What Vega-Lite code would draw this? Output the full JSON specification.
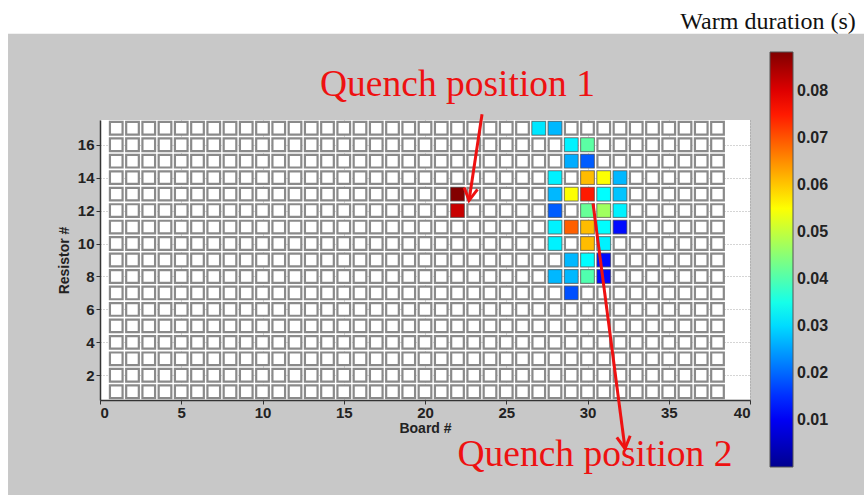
{
"$schema":"https://vega.github.io/schema/vega-lite/v6.json",
"width":650,"height":280,
"autosize":{"type":"none"},
"padding":{"left":100,"top":120,"right":114,"bottom":95},
"background":"#c8c8c8",
"config":{"view":{"fill":"white","stroke":null}},
"datasets":{
"grid":[
{"x":1,"y":1},{"x":2,"y":1},{"x":3,"y":1},{"x":4,"y":1},{"x":5,"y":1},{"x":6,"y":1},{"x":7,"y":1},{"x":8,"y":1},{"x":9,"y":1},{"x":10,"y":1},{"x":11,"y":1},{"x":12,"y":1},{"x":13,"y":1},{"x":14,"y":1},{"x":15,"y":1},{"x":16,"y":1},{"x":17,"y":1},{"x":18,"y":1},{"x":19,"y":1},{"x":20,"y":1},{"x":21,"y":1},{"x":22,"y":1},{"x":23,"y":1},{"x":24,"y":1},{"x":25,"y":1},{"x":26,"y":1},{"x":27,"y":1},{"x":28,"y":1},{"x":29,"y":1},{"x":30,"y":1},{"x":31,"y":1},{"x":32,"y":1},{"x":33,"y":1},{"x":34,"y":1},{"x":35,"y":1},{"x":36,"y":1},{"x":37,"y":1},{"x":38,"y":1},
{"x":1,"y":2},{"x":2,"y":2},{"x":3,"y":2},{"x":4,"y":2},{"x":5,"y":2},{"x":6,"y":2},{"x":7,"y":2},{"x":8,"y":2},{"x":9,"y":2},{"x":10,"y":2},{"x":11,"y":2},{"x":12,"y":2},{"x":13,"y":2},{"x":14,"y":2},{"x":15,"y":2},{"x":16,"y":2},{"x":17,"y":2},{"x":18,"y":2},{"x":19,"y":2},{"x":20,"y":2},{"x":21,"y":2},{"x":22,"y":2},{"x":23,"y":2},{"x":24,"y":2},{"x":25,"y":2},{"x":26,"y":2},{"x":27,"y":2},{"x":28,"y":2},{"x":29,"y":2},{"x":30,"y":2},{"x":31,"y":2},{"x":32,"y":2},{"x":33,"y":2},{"x":34,"y":2},{"x":35,"y":2},{"x":36,"y":2},{"x":37,"y":2},{"x":38,"y":2},
{"x":1,"y":3},{"x":2,"y":3},{"x":3,"y":3},{"x":4,"y":3},{"x":5,"y":3},{"x":6,"y":3},{"x":7,"y":3},{"x":8,"y":3},{"x":9,"y":3},{"x":10,"y":3},{"x":11,"y":3},{"x":12,"y":3},{"x":13,"y":3},{"x":14,"y":3},{"x":15,"y":3},{"x":16,"y":3},{"x":17,"y":3},{"x":18,"y":3},{"x":19,"y":3},{"x":20,"y":3},{"x":21,"y":3},{"x":22,"y":3},{"x":23,"y":3},{"x":24,"y":3},{"x":25,"y":3},{"x":26,"y":3},{"x":27,"y":3},{"x":28,"y":3},{"x":29,"y":3},{"x":30,"y":3},{"x":31,"y":3},{"x":32,"y":3},{"x":33,"y":3},{"x":34,"y":3},{"x":35,"y":3},{"x":36,"y":3},{"x":37,"y":3},{"x":38,"y":3},
{"x":1,"y":4},{"x":2,"y":4},{"x":3,"y":4},{"x":4,"y":4},{"x":5,"y":4},{"x":6,"y":4},{"x":7,"y":4},{"x":8,"y":4},{"x":9,"y":4},{"x":10,"y":4},{"x":11,"y":4},{"x":12,"y":4},{"x":13,"y":4},{"x":14,"y":4},{"x":15,"y":4},{"x":16,"y":4},{"x":17,"y":4},{"x":18,"y":4},{"x":19,"y":4},{"x":20,"y":4},{"x":21,"y":4},{"x":22,"y":4},{"x":23,"y":4},{"x":24,"y":4},{"x":25,"y":4},{"x":26,"y":4},{"x":27,"y":4},{"x":28,"y":4},{"x":29,"y":4},{"x":30,"y":4},{"x":31,"y":4},{"x":32,"y":4},{"x":33,"y":4},{"x":34,"y":4},{"x":35,"y":4},{"x":36,"y":4},{"x":37,"y":4},{"x":38,"y":4},
{"x":1,"y":5},{"x":2,"y":5},{"x":3,"y":5},{"x":4,"y":5},{"x":5,"y":5},{"x":6,"y":5},{"x":7,"y":5},{"x":8,"y":5},{"x":9,"y":5},{"x":10,"y":5},{"x":11,"y":5},{"x":12,"y":5},{"x":13,"y":5},{"x":14,"y":5},{"x":15,"y":5},{"x":16,"y":5},{"x":17,"y":5},{"x":18,"y":5},{"x":19,"y":5},{"x":20,"y":5},{"x":21,"y":5},{"x":22,"y":5},{"x":23,"y":5},{"x":24,"y":5},{"x":25,"y":5},{"x":26,"y":5},{"x":27,"y":5},{"x":28,"y":5},{"x":29,"y":5},{"x":30,"y":5},{"x":31,"y":5},{"x":32,"y":5},{"x":33,"y":5},{"x":34,"y":5},{"x":35,"y":5},{"x":36,"y":5},{"x":37,"y":5},{"x":38,"y":5},
{"x":1,"y":6},{"x":2,"y":6},{"x":3,"y":6},{"x":4,"y":6},{"x":5,"y":6},{"x":6,"y":6},{"x":7,"y":6},{"x":8,"y":6},{"x":9,"y":6},{"x":10,"y":6},{"x":11,"y":6},{"x":12,"y":6},{"x":13,"y":6},{"x":14,"y":6},{"x":15,"y":6},{"x":16,"y":6},{"x":17,"y":6},{"x":18,"y":6},{"x":19,"y":6},{"x":20,"y":6},{"x":21,"y":6},{"x":22,"y":6},{"x":23,"y":6},{"x":24,"y":6},{"x":25,"y":6},{"x":26,"y":6},{"x":27,"y":6},{"x":28,"y":6},{"x":29,"y":6},{"x":30,"y":6},{"x":31,"y":6},{"x":32,"y":6},{"x":33,"y":6},{"x":34,"y":6},{"x":35,"y":6},{"x":36,"y":6},{"x":37,"y":6},{"x":38,"y":6},
{"x":1,"y":7},{"x":2,"y":7},{"x":3,"y":7},{"x":4,"y":7},{"x":5,"y":7},{"x":6,"y":7},{"x":7,"y":7},{"x":8,"y":7},{"x":9,"y":7},{"x":10,"y":7},{"x":11,"y":7},{"x":12,"y":7},{"x":13,"y":7},{"x":14,"y":7},{"x":15,"y":7},{"x":16,"y":7},{"x":17,"y":7},{"x":18,"y":7},{"x":19,"y":7},{"x":20,"y":7},{"x":21,"y":7},{"x":22,"y":7},{"x":23,"y":7},{"x":24,"y":7},{"x":25,"y":7},{"x":26,"y":7},{"x":27,"y":7},{"x":28,"y":7},{"x":29,"y":7},{"x":30,"y":7},{"x":31,"y":7},{"x":32,"y":7},{"x":33,"y":7},{"x":34,"y":7},{"x":35,"y":7},{"x":36,"y":7},{"x":37,"y":7},{"x":38,"y":7},
{"x":1,"y":8},{"x":2,"y":8},{"x":3,"y":8},{"x":4,"y":8},{"x":5,"y":8},{"x":6,"y":8},{"x":7,"y":8},{"x":8,"y":8},{"x":9,"y":8},{"x":10,"y":8},{"x":11,"y":8},{"x":12,"y":8},{"x":13,"y":8},{"x":14,"y":8},{"x":15,"y":8},{"x":16,"y":8},{"x":17,"y":8},{"x":18,"y":8},{"x":19,"y":8},{"x":20,"y":8},{"x":21,"y":8},{"x":22,"y":8},{"x":23,"y":8},{"x":24,"y":8},{"x":25,"y":8},{"x":26,"y":8},{"x":27,"y":8},{"x":28,"y":8},{"x":29,"y":8},{"x":30,"y":8},{"x":31,"y":8},{"x":32,"y":8},{"x":33,"y":8},{"x":34,"y":8},{"x":35,"y":8},{"x":36,"y":8},{"x":37,"y":8},{"x":38,"y":8},
{"x":1,"y":9},{"x":2,"y":9},{"x":3,"y":9},{"x":4,"y":9},{"x":5,"y":9},{"x":6,"y":9},{"x":7,"y":9},{"x":8,"y":9},{"x":9,"y":9},{"x":10,"y":9},{"x":11,"y":9},{"x":12,"y":9},{"x":13,"y":9},{"x":14,"y":9},{"x":15,"y":9},{"x":16,"y":9},{"x":17,"y":9},{"x":18,"y":9},{"x":19,"y":9},{"x":20,"y":9},{"x":21,"y":9},{"x":22,"y":9},{"x":23,"y":9},{"x":24,"y":9},{"x":25,"y":9},{"x":26,"y":9},{"x":27,"y":9},{"x":28,"y":9},{"x":29,"y":9},{"x":30,"y":9},{"x":31,"y":9},{"x":32,"y":9},{"x":33,"y":9},{"x":34,"y":9},{"x":35,"y":9},{"x":36,"y":9},{"x":37,"y":9},{"x":38,"y":9},
{"x":1,"y":10},{"x":2,"y":10},{"x":3,"y":10},{"x":4,"y":10},{"x":5,"y":10},{"x":6,"y":10},{"x":7,"y":10},{"x":8,"y":10},{"x":9,"y":10},{"x":10,"y":10},{"x":11,"y":10},{"x":12,"y":10},{"x":13,"y":10},{"x":14,"y":10},{"x":15,"y":10},{"x":16,"y":10},{"x":17,"y":10},{"x":18,"y":10},{"x":19,"y":10},{"x":20,"y":10},{"x":21,"y":10},{"x":22,"y":10},{"x":23,"y":10},{"x":24,"y":10},{"x":25,"y":10},{"x":26,"y":10},{"x":27,"y":10},{"x":28,"y":10},{"x":29,"y":10},{"x":30,"y":10},{"x":31,"y":10},{"x":32,"y":10},{"x":33,"y":10},{"x":34,"y":10},{"x":35,"y":10},{"x":36,"y":10},{"x":37,"y":10},{"x":38,"y":10},
{"x":1,"y":11},{"x":2,"y":11},{"x":3,"y":11},{"x":4,"y":11},{"x":5,"y":11},{"x":6,"y":11},{"x":7,"y":11},{"x":8,"y":11},{"x":9,"y":11},{"x":10,"y":11},{"x":11,"y":11},{"x":12,"y":11},{"x":13,"y":11},{"x":14,"y":11},{"x":15,"y":11},{"x":16,"y":11},{"x":17,"y":11},{"x":18,"y":11},{"x":19,"y":11},{"x":20,"y":11},{"x":21,"y":11},{"x":22,"y":11},{"x":23,"y":11},{"x":24,"y":11},{"x":25,"y":11},{"x":26,"y":11},{"x":27,"y":11},{"x":28,"y":11},{"x":29,"y":11},{"x":30,"y":11},{"x":31,"y":11},{"x":32,"y":11},{"x":33,"y":11},{"x":34,"y":11},{"x":35,"y":11},{"x":36,"y":11},{"x":37,"y":11},{"x":38,"y":11},
{"x":1,"y":12},{"x":2,"y":12},{"x":3,"y":12},{"x":4,"y":12},{"x":5,"y":12},{"x":6,"y":12},{"x":7,"y":12},{"x":8,"y":12},{"x":9,"y":12},{"x":10,"y":12},{"x":11,"y":12},{"x":12,"y":12},{"x":13,"y":12},{"x":14,"y":12},{"x":15,"y":12},{"x":16,"y":12},{"x":17,"y":12},{"x":18,"y":12},{"x":19,"y":12},{"x":20,"y":12},{"x":21,"y":12},{"x":22,"y":12},{"x":23,"y":12},{"x":24,"y":12},{"x":25,"y":12},{"x":26,"y":12},{"x":27,"y":12},{"x":28,"y":12},{"x":29,"y":12},{"x":30,"y":12},{"x":31,"y":12},{"x":32,"y":12},{"x":33,"y":12},{"x":34,"y":12},{"x":35,"y":12},{"x":36,"y":12},{"x":37,"y":12},{"x":38,"y":12},
{"x":1,"y":13},{"x":2,"y":13},{"x":3,"y":13},{"x":4,"y":13},{"x":5,"y":13},{"x":6,"y":13},{"x":7,"y":13},{"x":8,"y":13},{"x":9,"y":13},{"x":10,"y":13},{"x":11,"y":13},{"x":12,"y":13},{"x":13,"y":13},{"x":14,"y":13},{"x":15,"y":13},{"x":16,"y":13},{"x":17,"y":13},{"x":18,"y":13},{"x":19,"y":13},{"x":20,"y":13},{"x":21,"y":13},{"x":22,"y":13},{"x":23,"y":13},{"x":24,"y":13},{"x":25,"y":13},{"x":26,"y":13},{"x":27,"y":13},{"x":28,"y":13},{"x":29,"y":13},{"x":30,"y":13},{"x":31,"y":13},{"x":32,"y":13},{"x":33,"y":13},{"x":34,"y":13},{"x":35,"y":13},{"x":36,"y":13},{"x":37,"y":13},{"x":38,"y":13},
{"x":1,"y":14},{"x":2,"y":14},{"x":3,"y":14},{"x":4,"y":14},{"x":5,"y":14},{"x":6,"y":14},{"x":7,"y":14},{"x":8,"y":14},{"x":9,"y":14},{"x":10,"y":14},{"x":11,"y":14},{"x":12,"y":14},{"x":13,"y":14},{"x":14,"y":14},{"x":15,"y":14},{"x":16,"y":14},{"x":17,"y":14},{"x":18,"y":14},{"x":19,"y":14},{"x":20,"y":14},{"x":21,"y":14},{"x":22,"y":14},{"x":23,"y":14},{"x":24,"y":14},{"x":25,"y":14},{"x":26,"y":14},{"x":27,"y":14},{"x":28,"y":14},{"x":29,"y":14},{"x":30,"y":14},{"x":31,"y":14},{"x":32,"y":14},{"x":33,"y":14},{"x":34,"y":14},{"x":35,"y":14},{"x":36,"y":14},{"x":37,"y":14},{"x":38,"y":14},
{"x":1,"y":15},{"x":2,"y":15},{"x":3,"y":15},{"x":4,"y":15},{"x":5,"y":15},{"x":6,"y":15},{"x":7,"y":15},{"x":8,"y":15},{"x":9,"y":15},{"x":10,"y":15},{"x":11,"y":15},{"x":12,"y":15},{"x":13,"y":15},{"x":14,"y":15},{"x":15,"y":15},{"x":16,"y":15},{"x":17,"y":15},{"x":18,"y":15},{"x":19,"y":15},{"x":20,"y":15},{"x":21,"y":15},{"x":22,"y":15},{"x":23,"y":15},{"x":24,"y":15},{"x":25,"y":15},{"x":26,"y":15},{"x":27,"y":15},{"x":28,"y":15},{"x":29,"y":15},{"x":30,"y":15},{"x":31,"y":15},{"x":32,"y":15},{"x":33,"y":15},{"x":34,"y":15},{"x":35,"y":15},{"x":36,"y":15},{"x":37,"y":15},{"x":38,"y":15},
{"x":1,"y":16},{"x":2,"y":16},{"x":3,"y":16},{"x":4,"y":16},{"x":5,"y":16},{"x":6,"y":16},{"x":7,"y":16},{"x":8,"y":16},{"x":9,"y":16},{"x":10,"y":16},{"x":11,"y":16},{"x":12,"y":16},{"x":13,"y":16},{"x":14,"y":16},{"x":15,"y":16},{"x":16,"y":16},{"x":17,"y":16},{"x":18,"y":16},{"x":19,"y":16},{"x":20,"y":16},{"x":21,"y":16},{"x":22,"y":16},{"x":23,"y":16},{"x":24,"y":16},{"x":25,"y":16},{"x":26,"y":16},{"x":27,"y":16},{"x":28,"y":16},{"x":29,"y":16},{"x":30,"y":16},{"x":31,"y":16},{"x":32,"y":16},{"x":33,"y":16},{"x":34,"y":16},{"x":35,"y":16},{"x":36,"y":16},{"x":37,"y":16},{"x":38,"y":16},
{"x":1,"y":17},{"x":2,"y":17},{"x":3,"y":17},{"x":4,"y":17},{"x":5,"y":17},{"x":6,"y":17},{"x":7,"y":17},{"x":8,"y":17},{"x":9,"y":17},{"x":10,"y":17},{"x":11,"y":17},{"x":12,"y":17},{"x":13,"y":17},{"x":14,"y":17},{"x":15,"y":17},{"x":16,"y":17},{"x":17,"y":17},{"x":18,"y":17},{"x":19,"y":17},{"x":20,"y":17},{"x":21,"y":17},{"x":22,"y":17},{"x":23,"y":17},{"x":24,"y":17},{"x":25,"y":17},{"x":26,"y":17},{"x":27,"y":17},{"x":28,"y":17},{"x":29,"y":17},{"x":30,"y":17},{"x":31,"y":17},{"x":32,"y":17},{"x":33,"y":17},{"x":34,"y":17},{"x":35,"y":17},{"x":36,"y":17},{"x":37,"y":17},{"x":38,"y":17}
],
"hot":[
{"x":27,"y":17,"v":0.031},{"x":28,"y":17,"v":0.027},
{"x":29,"y":16,"v":0.032},{"x":30,"y":16,"v":0.041},
{"x":29,"y":15,"v":0.026},{"x":30,"y":15,"v":0.019},
{"x":28,"y":14,"v":0.032},{"x":30,"y":14,"v":0.061},{"x":31,"y":14,"v":0.055},{"x":32,"y":14,"v":0.027},
{"x":22,"y":13,"v":0.088},{"x":28,"y":13,"v":0.027},{"x":29,"y":13,"v":0.055},{"x":30,"y":13,"v":0.075},{"x":31,"y":13,"v":0.033},{"x":32,"y":13,"v":0.028},
{"x":22,"y":12,"v":0.082},{"x":28,"y":12,"v":0.019},{"x":30,"y":12,"v":0.042},{"x":31,"y":12,"v":0.047},{"x":32,"y":12,"v":0.032},
{"x":28,"y":11,"v":0.032},{"x":29,"y":11,"v":0.069},{"x":30,"y":11,"v":0.061},{"x":31,"y":11,"v":0.033},{"x":32,"y":11,"v":0.012},
{"x":28,"y":10,"v":0.032},{"x":30,"y":10,"v":0.061},{"x":31,"y":10,"v":0.032},
{"x":29,"y":9,"v":0.027},{"x":30,"y":9,"v":0.033},{"x":31,"y":9,"v":0.012},
{"x":28,"y":8,"v":0.027},{"x":29,"y":8,"v":0.027},{"x":30,"y":8,"v":0.040},{"x":31,"y":8,"v":0.012},
{"x":29,"y":7,"v":0.018}
],
"bands":[
{"x":-7,"x2":48,"y":22.73,"y2":27},
{"x":-7,"x2":-5.66,"y":-7,"y2":27}
],
"arrows":[
{"id":1,"x":23.51,"y":17.85},{"id":1,"x":22.71,"y":12.61},
{"id":2,"x":30.34,"y":12.43},{"id":2,"x":32.31,"y":-2.46}
],
"tips":[
{"id":1,"x":22.71,"y":12.61},
{"id":2,"x":32.31,"y":-2.46}
],
"notes":[
{"x":22.0,"y":18.98,"text":"Quench position 1"},
{"x":30.46,"y":-3.52,"text":"Quench position 2"}
],
"head":[
{"x":41.11,"y":23.03,"text":"Warm duration (s)"}
]
},
"encoding":{
"x":{"field":"x","type":"quantitative","scale":{"domain":[0,40],"nice":false,"zero":false},
"axis":{"title":"Board #","values":[0,5,10,15,20,25,30,35,40],"grid":true,"gridDash":[1,2],"gridColor":"#888","gridOpacity":0.7,"domainColor":"#333","domainWidth":1.5,"tickColor":"#333","tickSize":4,"labelFont":"Liberation Sans","labelFontSize":15,"labelFontWeight":"bold","labelColor":"#222","labelPadding":1,"titleFont":"Liberation Sans","titleFontSize":14,"titleFontWeight":"bold","titleColor":"#222","titlePadding":1}},
"y":{"field":"y","type":"quantitative","scale":{"domain":[0.5,17.5],"nice":false,"zero":false},
"axis":{"title":"Resistor #","values":[2,4,6,8,10,12,14,16],"grid":true,"gridDash":[1,2],"gridColor":"#888","gridOpacity":0.7,"domainColor":"#333","domainWidth":1.5,"tickColor":"#333","tickSize":4,"labelFont":"Liberation Sans","labelFontSize":15,"labelFontWeight":"bold","labelColor":"#222","labelPadding":2,"titleFont":"Liberation Sans","titleFontSize":14,"titleFontWeight":"bold","titleColor":"#222","titlePadding":6}}
},
"layer":[
{"data":{"name":"bands"},"mark":{"type":"rect","fill":"white","stroke":null},
 "encoding":{"x2":{"field":"x2"},"y2":{"field":"y2"}}},
{"data":{"name":"grid"},"mark":{"type":"square","size":160,"fill":"white","stroke":"#8a8a8a","strokeWidth":2.2,"opacity":1,"filled":true}},
{"data":{"name":"hot"},"mark":{"type":"square","size":180,"stroke":"#404040","strokeOpacity":0.35,"strokeWidth":1,"opacity":1,"filled":true},
 "encoding":{"color":{"field":"v","type":"quantitative",
  "scale":{"domain":[0,0.01104,0.03311,0.05519,0.07726,0.0883],"range":["#00008f","#0000ff","#00ffff","#ffff00","#ff0000","#800000"],"interpolate":"rgb"},
  "legend":{"type":"gradient","orient":"none","legendX":670,"legendY":-68,"gradientLength":415,"gradientThickness":23,"title":null,"values":[0.01,0.02,0.03,0.04,0.05,0.06,0.07,0.08],"format":".2f","labelFont":"Liberation Sans","labelFontSize":16,"labelFontWeight":"bold","labelColor":"#222","labelOffset":4,"gradientStrokeColor":"#555","gradientStrokeWidth":1}}}},
{"data":{"name":"arrows"},"mark":{"type":"line","color":"#ee1111","strokeWidth":3},
 "encoding":{"detail":{"field":"id","type":"nominal"}}},
{"data":{"name":"tips"},"transform":[{"filter":"datum.id == 1"}],
 "mark":{"type":"point","shape":"M -0.55 -1 L 0 0 L 0.55 -1","size":600,"filled":false,"stroke":"#ee1111","strokeWidth":3,"opacity":1,"angle":8.4}},
{"data":{"name":"tips"},"transform":[{"filter":"datum.id == 2"}],
 "mark":{"type":"point","shape":"M -0.55 -1 L 0 0 L 0.55 -1","size":600,"filled":false,"stroke":"#ee1111","strokeWidth":3,"opacity":1,"angle":352.7}},
{"data":{"name":"notes"},"mark":{"type":"text","font":"Liberation Serif","fontSize":37.5,"color":"#ee1111","align":"center","baseline":"alphabetic"},
 "encoding":{"text":{"field":"text"}}},
{"data":{"name":"head"},"mark":{"type":"text","font":"Liberation Serif","fontSize":24,"color":"#111","align":"center","baseline":"alphabetic"},
 "encoding":{"text":{"field":"text"}}}
]
}
